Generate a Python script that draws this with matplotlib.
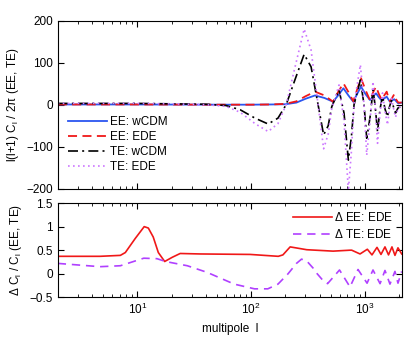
import numpy as np
import matplotlib
matplotlib.use("Agg")
import matplotlib.pyplot as plt

plt.rcParams['font.family'] = ['Liberation Sans', 'DejaVu Sans']
plt.rcParams['font.size'] = 8.5
plt.rcParams['mathtext.fontset'] = 'custom'
plt.rcParams['mathtext.rm'] = 'Liberation Sans'
plt.rcParams['mathtext.it'] = 'Liberation Sans'

# ---- top panel: EE spectra
l_ee = [2, 10, 50, 100, 150, 200, 250, 300, 364, 440, 524, 580, 646, 715, 789,
        850, 922, 1010, 1107, 1180, 1249, 1320, 1400, 1475, 1550, 1600, 1656,
        1730, 1807, 1880, 1960, 2100]
ee_wcdm = [0.5, 0.5, 0, 0, 0.5, 1, 5, 14, 22, 16, 7, 22, 39, 22, 7,
           25, 43, 25, 11, 20, 27, 18, 10, 15, 19, 13, 7,
           10, 13, 8, 3, 5]
ee_ede = [0.5, 0.5, 0, 0, 0.5, 2, 8, 20, 31, 22, 7, 30, 51, 30, 8,
          35, 63, 35, 10, 30, 43, 26, 12, 22, 31, 18, 8,
          16, 25, 12, 5, 5]

# ---- top panel: TE spectra
l_te = [2, 5, 10, 20, 40, 60, 80, 108, 141, 172, 203, 243, 292, 336, 387, 433,
        475, 510, 591, 654, 714, 760, 801, 910, 980, 1035, 1107, 1175, 1224,
        1288, 1355, 1425, 1497, 1575, 1640, 1707, 1778, 1852, 1947, 2100]
te_wcdm = [3, 3, 3, 2, 1, -2, -12, -32, -46, -32, 0, 60, 120, 90, 0, -72,
           -50, -5, 35, -20, -132, -75, 0, 59, 0, -80, -30, 35, 0,
           -64, -10, 20, -10, -29, -5, 10, -5, -20, -8, -3]
te_ede = [3, 3, 3, 2, 0, -4, -18, -45, -64, -45, 0, 90, 180, 130, 0, -105,
          -70, -10, 47, -40, -205, -110, 0, 95, 0, -120, -40, 55, 0,
          -92, -20, 28, -15, -48, -10, 15, -8, -30, -10, 0]

# ---- bottom panel: relative differences
l_dee = [2, 4.7, 7.1, 7.85, 9.6, 11.5, 12.5, 13.8, 15.3, 17.4, 20.3, 23.8, 35.7,
         98, 173, 190, 220, 308, 524, 738, 764, 904, 1048, 1151, 1274, 1381,
         1497, 1608, 1724, 1832, 1947, 2100]
d_ee = [0.37, 0.37, 0.39, 0.45, 0.75, 1.0, 0.97, 0.78, 0.45, 0.26, 0.35, 0.43, 0.42,
        0.41, 0.37, 0.40, 0.57, 0.51, 0.48, 0.50, 0.50, 0.42, 0.52, 0.40, 0.56, 0.41,
        0.57, 0.40, 0.57, 0.39, 0.55, 0.42]

l_dte = [2, 4.7, 7.1, 9, 11.4, 14.9, 17.7, 27.5, 41, 71, 107, 140, 172, 211, 250,
         277, 308, 350, 380, 430, 469, 597, 738, 868, 1042, 1175, 1355, 1497,
         1656, 1832, 1947, 2100]
d_te = [0.22, 0.15, 0.17, 0.25, 0.33, 0.32, 0.26, 0.17, 0.03, -0.22, -0.32, -0.32,
        -0.22, 0.0, 0.22, 0.31, 0.27, 0.12, 0.0, -0.15, -0.21, 0.08, -0.28, 0.09,
        -0.2, 0.08, -0.21, 0.07, -0.22, 0.05, -0.2, 0.05]

blue = '#2b55f0'
red = '#f01818'
violet = '#cc77ff'
purple = '#b040ff'

fig = plt.figure(figsize=(4.11, 3.44), dpi=100)
ax1 = fig.add_axes([0.1404, 0.4515, 0.837, 0.4884])
ax2 = fig.add_axes([0.1404, 0.1357, 0.837, 0.274])

ax1.plot(l_ee, ee_wcdm, color=blue, lw=1.3, label='EE: wCDM')
ax1.plot(l_ee, ee_ede, color=red, lw=1.3, ls=(0, (5, 3)), label='EE: EDE')
ax1.plot(l_te, te_wcdm, color='black', lw=1.2, ls=(0, (6, 2.5, 1.2, 2.5)), label='TE: wCDM')
ax1.plot(l_te, te_ede, color=violet, lw=1.2, ls=(0, (1, 2)), label='TE: EDE')

ax2.plot(l_dee, d_ee, color=red, lw=1.2, label=r'$\Delta$ EE: EDE')
ax2.plot(l_dte, d_te, color=purple, lw=1.2, ls=(0, (5, 3.5)), label=r'$\Delta$ TE: EDE')

for ax in (ax1, ax2):
    ax.set_xscale('log')
    ax.set_xlim(2, 2100)
    ax.tick_params(which='both', direction='in', top=True, right=True)
    ax.tick_params(which='major', length=4)
    ax.tick_params(which='minor', length=2)

ax1.set_ylim(-200, 200)
ax1.set_yticks([-200, -100, 0, 100, 200])
ax1.tick_params(labelbottom=False)
ax1.set_ylabel(r'l(l+1) C$_\mathregular{l}$ / 2$\pi$ (EE, TE)')

ax2.set_ylim(-0.5, 1.5)
ax2.set_yticks([-0.5, 0, 0.5, 1, 1.5])
ax2.set_yticklabels(['\u22120.5', '0', '0.5', '1', '1.5'])
ax2.set_ylabel(r'$\Delta$ C$_\mathregular{l}$ / C$_\mathregular{l}$ (EE, TE)')
ax2.set_xlabel('multipole  l')

ax1.legend(loc='lower left', bbox_to_anchor=(0.01, 0.05), frameon=False,
           handlelength=3.3, handletextpad=0.2, labelspacing=0.25, borderaxespad=0.2)
ax2.legend(loc='upper right', frameon=False, handlelength=3.3,
           handletextpad=0.2, labelspacing=0.3, borderaxespad=0.3)

fig.savefig('out.png', dpi=100)
